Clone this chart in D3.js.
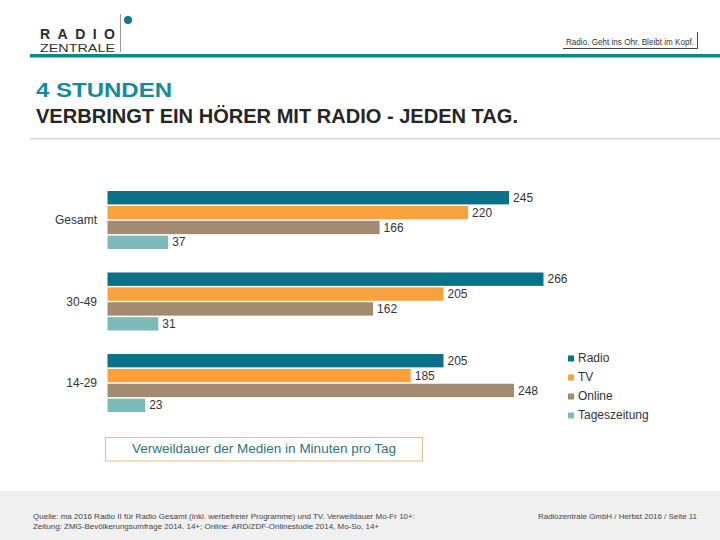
<!DOCTYPE html>
<html><head><meta charset="utf-8">
<script src="https://cdn.jsdelivr.net/npm/d3@7"></script>
<style>
html,body{margin:0;padding:0;background:#fff;}
svg{display:block;font-family:"Liberation Sans",Arial,sans-serif;}
</style></head>
<body>
<svg id="c" width="720" height="540"></svg>
<script>
const groups = ["Gesamt", "30-49", "14-29"];
const series = ["Radio", "TV", "Online", "Tageszeitung"];
const radio = [245, 266, 205];
const tv = [220, 205, 185];
const online = [166, 162, 248];
const zeitung = [37, 31, 23];
const colors = ["#0b7189", "#f9a03f", "#a28b70", "#7ebab9"];

const svg = d3.select("#c");

// Header
svg.append("text").attr("x", 40).attr("y", 38.5).attr("font-size", 14).attr("font-weight", "bold")
  .attr("fill", "#2b2b2b").attr("textLength", 75).attr("lengthAdjust", "spacing").text("RADIO");
svg.append("text").attr("x", 40).attr("y", 51.5).attr("font-size", 10.5)
  .attr("fill", "#333").attr("textLength", 75).attr("lengthAdjust", "spacingAndGlyphs").text("ZENTRALE");
svg.append("line").attr("x1", 120.5).attr("x2", 120.5).attr("y1", 14).attr("y2", 52).attr("stroke", "#999").attr("stroke-width", 1);
svg.append("circle").attr("cx", 128).attr("cy", 20).attr("r", 4).attr("fill", "#0e7a8c");

svg.append("text").attr("x", 566).attr("y", 45).attr("font-size", 8.5).attr("fill", "#333")
  .attr("textLength", 128).attr("lengthAdjust", "spacingAndGlyphs").text("Radio. Geht ins Ohr. Bleibt im Kopf.");
svg.append("path").attr("d", "M563,48.5H697.5V32").attr("fill", "none").attr("stroke", "#444").attr("stroke-width", 1);

svg.append("rect").attr("x", 30).attr("y", 54).attr("width", 690).attr("height", 3.5).attr("fill", "#128595");

svg.append("text").attr("x", 36).attr("y", 97).attr("font-size", 20.5).attr("font-weight", "bold")
  .attr("fill", "#168a9a").attr("textLength", 136).attr("lengthAdjust", "spacingAndGlyphs").text("4 STUNDEN");
svg.append("text").attr("x", 36).attr("y", 123).attr("font-size", 21).attr("font-weight", "bold")
  .attr("fill", "#262626").attr("textLength", 482).attr("lengthAdjust", "spacingAndGlyphs").text("VERBRINGT EIN HÖRER MIT RADIO - JEDEN TAG.");
svg.append("rect").attr("x", 30).attr("y", 138).attr("width", 690).attr("height", 1.5).attr("fill", "#d9d9d9");

// Chart
const x = d3.scaleLinear().domain([0, 266]).range([107.5, 543.5]);
const y0 = d3.scaleBand().domain(groups).range([191, 412]).paddingInner(0.288);
const y1 = d3.scaleBand().domain(series).range([0, y0.bandwidth()]).paddingInner(0.1);

const vals = [radio, tv, online, zeitung];
const data = [];
groups.forEach((g, gi) => series.forEach((s, si) => data.push({g, s, si, v: vals[si][gi]})));

const chart = svg.append("g");
chart.selectAll("rect.bar").data(data).join("rect").attr("class", "bar")
  .attr("x", x(0)).attr("y", d => y0(d.g) + y1(d.s))
  .attr("width", d => x(d.v) - x(0)).attr("height", y1.bandwidth())
  .attr("fill", d => colors[d.si]);

chart.selectAll("text.val").data(data).join("text").attr("class", "val")
  .attr("x", d => x(d.v) + 4).attr("y", d => y0(d.g) + y1(d.s) + y1.bandwidth() / 2 + 1)
  .attr("dominant-baseline", "middle").attr("font-size", 12).attr("fill", "#333")
  .text(d => d.v);

chart.selectAll("text.cat").data(groups).join("text").attr("class", "cat")
  .attr("x", 97).attr("y", g => y0(g) + y0.bandwidth() / 2 + 1)
  .attr("text-anchor", "end").attr("dominant-baseline", "middle").attr("font-size", 12).attr("fill", "#333")
  .text(g => g);

// Legend
const lg = svg.append("g");
series.forEach((s, i) => {
  const yy = 359 + i * 19;
  lg.append("rect").attr("x", 568).attr("y", yy - 3.5).attr("width", 6).attr("height", 6).attr("fill", colors[i]);
  lg.append("text").attr("x", 578).attr("y", yy).attr("dominant-baseline", "middle")
    .attr("font-size", 12).attr("fill", "#333").text(s);
});

// Caption box
svg.append("rect").attr("x", 105.5).attr("y", 437.5).attr("width", 317).attr("height", 23.5)
  .attr("fill", "#fff").attr("stroke", "#ddc083").attr("stroke-width", 1);
svg.append("text").attr("x", 264).attr("y", 449.5).attr("text-anchor", "middle").attr("dominant-baseline", "middle")
  .attr("font-size", 13.5).attr("fill", "#2a767d").text("Verweildauer der Medien in Minuten pro Tag");

// Footer
svg.append("rect").attr("x", 0).attr("y", 491).attr("width", 720).attr("height", 49).attr("fill", "#f0f0f0");
svg.append("text").attr("x", 33).attr("y", 519).attr("font-size", 7.5).attr("fill", "#444")
  .attr("textLength", 382).attr("lengthAdjust", "spacingAndGlyphs")
  .text("Quelle: ma 2016 Radio II für Radio Gesamt (inkl. werbefreier Programme) und TV. Verweildauer Mo-Fr 10+:");
svg.append("text").attr("x", 33).attr("y", 529).attr("font-size", 7.5).attr("fill", "#444")
  .attr("textLength", 346).attr("lengthAdjust", "spacingAndGlyphs")
  .text("Zeitung: ZMG-Bevölkerungsumfrage 2014. 14+; Online: ARD/ZDF-Onlinestudie 2014, Mo-So, 14+");
svg.append("text").attr("x", 538).attr("y", 519).attr("font-size", 7.5).attr("fill", "#444")
  .attr("textLength", 159).attr("lengthAdjust", "spacingAndGlyphs")
  .text("Radiozentrale GmbH / Herbst 2016 / Seite 11");
</script>
</body></html>
